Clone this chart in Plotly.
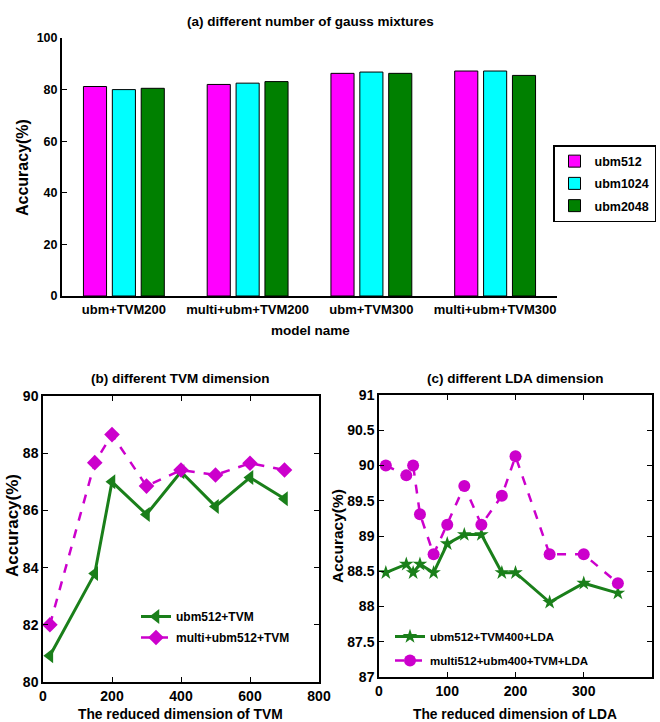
import plotly.graph_objects as go

# ---------------- data ----------------
models = ["ubm+TVM200", "multi+ubm+TVM200", "ubm+TVM300", "multi+ubm+TVM300"]
ubm512 = [81.2, 82.0, 86.3, 87.2]
ubm1024 = [80.0, 82.5, 86.8, 87.2]
ubm2048 = [80.5, 83.1, 86.3, 85.5]
bar_names = ["ubm512", "ubm1024", "ubm2048"]

tvm_dim = [20, 150, 200, 300, 400, 500, 600, 700]
tvm_ubm512 = [80.92, 83.79, 87.0, 85.86, 87.35, 86.14, 87.15, 86.41]
tvm_multi = [82.0, 87.67, 88.65, 86.85, 87.41, 87.24, 87.65, 87.41]

lda_dim = [10, 40, 50, 60, 80, 100, 125, 150, 180, 200, 250, 300, 350]
lda_ubm = [88.48, 88.6, 88.48, 88.6, 88.48, 88.89, 89.02, 89.02, 88.48, 88.48, 88.06, 88.33, 88.19]
lda_multi = [90.0, 89.86, 90.0, 89.31, 88.74, 89.16, 89.71, 89.16, 89.57, 90.13, 88.74, 88.74, 88.33]

a_yticks = [0, 20, 40, 60, 80, 100]
b_xticks = [0, 200, 400, 600, 800]
b_yticks = [80, 82, 84, 86, 88, 90]
c_xticks = [0, 100, 200, 300, 400]
c_yticks = [87, 87.5, 88, 88.5, 89, 89.5, 90, 90.5, 91]
c_yticktext = ["87", "87.5", "88", "88.5", "89", "89.5", "90", "90.5", "91"]

# ---------------- style ----------------
FONT = "Liberation Sans, Arial, sans-serif"
W, H = 660, 722
MAG = "#FF00FF"
CYAN = "#00FFFF"
GREEN = "#008000"
LMAG = "#CC00CC"
LGREEN = "#1A7F1A"

def tf(size=14):
    return dict(family=FONT, size=size, color="black", weight="bold")

fig = go.Figure()

# (a) bars
for name, vals, col in zip(bar_names, [ubm512, ubm1024, ubm2048], [MAG, CYAN, GREEN]):
    fig.add_trace(go.Bar(x=models, y=vals, name=name,
                         marker=dict(color=col, line=dict(color="black", width=1)),
                         xaxis="x", yaxis="y", legend="legend", legendgroup=name))

# (b)
fig.add_trace(go.Scatter(x=tvm_dim, y=tvm_ubm512, name="ubm512+TVM", mode="lines+markers",
                         line=dict(color=LGREEN, width=3),
                         marker=dict(symbol="triangle-left", size=13, color=LGREEN),
                         xaxis="x2", yaxis="y2", legend="legend2", legendgroup="b1"))
fig.add_trace(go.Scatter(x=tvm_dim, y=tvm_multi, name="multi+ubm512+TVM", mode="lines+markers",
                         line=dict(color=LMAG, width=2.5, dash="dash"),
                         marker=dict(symbol="diamond", size=12, color=LMAG),
                         xaxis="x2", yaxis="y2", legend="legend2", legendgroup="b2"))

# (c)
fig.add_trace(go.Scatter(x=lda_dim, y=lda_ubm, name="ubm512+TVM400+LDA", mode="lines+markers",
                         line=dict(color=LGREEN, width=3),
                         marker=dict(symbol="star", size=11, color=LGREEN),
                         xaxis="x3", yaxis="y3", legend="legend3", legendgroup="c1"))
fig.add_trace(go.Scatter(x=lda_dim, y=lda_multi, name="multi512+ubm400+TVM+LDA", mode="lines+markers",
                         line=dict(color=LMAG, width=2.5, dash="dash"),
                         marker=dict(symbol="circle", size=12, color=LMAG),
                         xaxis="x3", yaxis="y3", legend="legend3", legendgroup="c2"))

def px(x):
    return x / W

def py(y):
    return 1 - y / H

axcommon = dict(showline=True, linecolor="black", showgrid=False, zeroline=False, automargin=False,
                ticks="inside", tickcolor="black", tickfont=tf(14))

fig.update_layout(
    width=W, height=H,
    margin=dict(l=0, r=0, t=0, b=0),
    paper_bgcolor="white", plot_bgcolor="white",
    font=tf(14),
    barmode="group", bargap=0.3, bargroupgap=0.2,
    xaxis=dict(domain=[px(62), px(557)], anchor="y", showline=True, linecolor="black", linewidth=2,
               ticks="", tickfont=tf(13), tickangle=0, showgrid=False, automargin=False),
    yaxis=dict(domain=[py(296), py(38)], anchor="x", range=[0, 100], tickvals=a_yticks,
               linewidth=2, ticklen=5, **{**axcommon, "tickfont": tf(12.5)}),
    xaxis2=dict(domain=[px(43), px(319)], anchor="y2", range=[0, 800], tickvals=b_xticks,
                mirror="ticks", linewidth=1.5, ticklen=5, **axcommon),
    yaxis2=dict(domain=[py(682), py(396)], anchor="x2", range=[80, 90], tickvals=b_yticks,
                mirror="ticks", linewidth=1.5, ticklen=5, **axcommon),
    xaxis3=dict(domain=[px(379), px(652)], anchor="y3", range=[0, 400], tickvals=c_xticks,
                mirror="ticks", linewidth=1.5, ticklen=5, **axcommon),
    yaxis3=dict(domain=[py(677), py(395)], anchor="x3", range=[87, 91], tickvals=c_yticks,
                ticktext=c_yticktext, mirror="ticks", linewidth=1.5, ticklen=5, **axcommon),
    legend=dict(x=px(656), y=py(145), xanchor="right", yanchor="top", bordercolor="black",
                borderwidth=1.5, font=tf(12.5), bgcolor="white", tracegroupgap=3),
    legend2=dict(x=px(136), y=py(602), xanchor="left", yanchor="top", font=tf(12),
                 bgcolor="rgba(0,0,0,0)", tracegroupgap=2),
    legend3=dict(x=px(390), y=py(622), xanchor="left", yanchor="top", font=tf(11.5),
                 bgcolor="rgba(0,0,0,0)", tracegroupgap=5),
)

ann = [
    dict(text="(a) different number of gauss mixtures", x=px(310), y=py(21), font=tf(13.5)),
    dict(text="model name", x=px(310), y=py(330), font=tf(13.5)),
    dict(text="Accuracy(%)", x=px(22), y=py(168), font=tf(16), textangle=-90),
    dict(text="(b) different TVM dimension", x=px(180), y=py(378), font=tf(13.5)),
    dict(text="The reduced dimension of TVM", x=px(180), y=py(714), font=tf(13.8)),
    dict(text="Accuracy(%)", x=px(12), y=py(526), font=tf(17), textangle=-90),
    dict(text="(c) different LDA dimension", x=px(515), y=py(378), font=tf(13.5)),
    dict(text="The reduced dimension of LDA", x=px(515), y=py(714), font=tf(13.8)),
    dict(text="Accuracy(%)", x=px(337), y=py(536), font=tf(15.5), textangle=-90),
]
for a in ann:
    a.update(xref="paper", yref="paper", showarrow=False, xanchor="center", yanchor="middle")
fig.update_layout(annotations=ann)

fig.write_html("out.html", config={"displayModeBar": False},
               post_script="document.body.style.margin='0';document.body.style.overflow='hidden';")
